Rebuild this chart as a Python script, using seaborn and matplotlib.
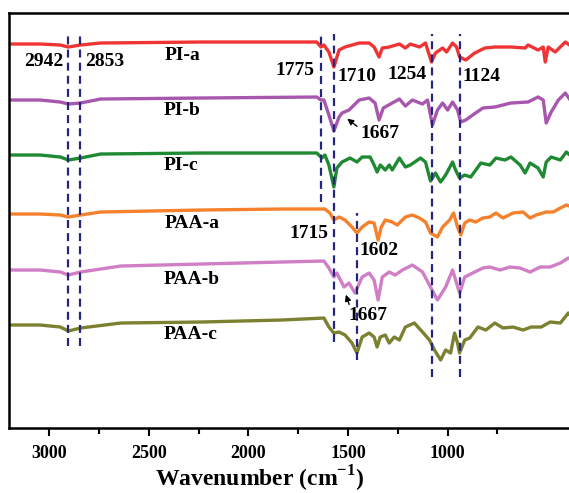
import numpy as np
import pandas as pd
import matplotlib
matplotlib.use("Agg")
import matplotlib.pyplot as plt
from matplotlib.ticker import FixedLocator
import seaborn as sns

# // FTIR spectra, stacked (wavenumber in cm-1, transmittance in arbitrary offset units)
pia_wn = [3202, 3045, 2944, 2904, 2843, 2742, 2237, 1657, 1636, 1621, 1596, 1571, 1545, 1515, 1444, 1394, 1369,
          1344, 1328, 1293, 1242, 1212, 1187, 1141, 1111, 1081, 1061, 1025, 1005, 975, 955, 940, 909, 864, 813,
          763, 682, 611, 596, 546, 520, 510, 495, 460, 409, 374]
pia_t = [384, 384, 383, 381, 383, 385, 386, 386, 381, 383, 376, 361, 378, 381, 385, 385, 381,
         371, 380, 381, 384, 380, 384, 381, 385, 366, 375, 380, 376, 385, 381, 371, 368, 375, 380,
         381, 381, 380, 383, 378, 381, 366, 381, 376, 386, 381]

pib_wn = [3202, 3045, 2944, 2904, 2843, 2742, 2237, 1657, 1636, 1621, 1596, 1571, 1545, 1530, 1495, 1444, 1394,
          1364, 1344, 1323, 1278, 1242, 1212, 1177, 1126, 1101, 1076, 1051, 1025, 1000, 975, 950, 934, 909, 874,
          823, 763, 682, 596, 546, 520, 505, 480, 444, 409, 374]
pib_t = [328, 328, 326, 324, 325, 329, 330, 331, 328, 328, 313, 297, 311, 315, 318, 328, 330,
         325, 308, 320, 325, 329, 322, 328, 324, 328, 303, 318, 325, 318, 326, 318, 306, 308, 313,
         320, 321, 325, 326, 331, 328, 305, 316, 328, 335, 325]

pic_wn = [3202, 3045, 2944, 2904, 2843, 2742, 2237, 1657, 1631, 1616, 1596, 1571, 1556, 1530, 1490, 1455, 1429,
          1389, 1369, 1354, 1338, 1313, 1293, 1278, 1242, 1212, 1187, 1136, 1111, 1086, 1061, 1035, 1010, 975,
          960, 940, 914, 884, 833, 788, 757, 712, 682, 636, 611, 586, 546, 520, 505, 480, 434, 404, 374]
pic_t = [273, 273, 271, 268, 270, 274, 275, 275, 270, 273, 263, 241, 260, 266, 270, 266, 271,
         271, 263, 256, 263, 258, 263, 258, 270, 261, 263, 270, 266, 247, 255, 246, 253, 266,
         258, 250, 253, 251, 265, 263, 270, 268, 271, 263, 255, 265, 260, 251, 266, 271, 268, 276, 271]

paaa_wn = [3202, 3045, 2944, 2904, 2843, 2742, 2237, 1833, 1616, 1591, 1571, 1545, 1515, 1480, 1455, 1429, 1394,
           1369, 1349, 1333, 1313, 1278, 1253, 1212, 1177, 1141, 1111, 1086, 1051, 1025, 990, 970, 950, 934, 914,
           889, 859, 823, 788, 757, 722, 672, 621, 586, 556, 505, 470, 434, 404, 374]
paaa_t = [214, 214, 213, 211, 213, 216, 218, 219, 219, 215, 208, 211, 208, 201, 195, 201, 206,
          205, 188, 201, 208, 206, 203, 211, 213, 210, 206, 195, 191, 201, 208, 215, 201, 193, 205,
          208, 206, 210, 211, 215, 210, 215, 216, 210, 213, 216, 216, 220, 223, 221]

paab_wn = [3202, 3045, 2944, 2904, 2843, 2641, 2237, 1833, 1621, 1596, 1571, 1556, 1520, 1495, 1465, 1429, 1394,
           1369, 1349, 1328, 1293, 1263, 1227, 1177, 1126, 1086, 1051, 1010, 975, 940, 914, 874, 823, 788, 737,
           687, 636, 586, 535, 485, 434, 394, 374]
paab_t = [158, 158, 156, 153, 156, 162, 164, 166, 167, 160, 151, 155, 141, 145, 135, 151, 155,
          148, 128, 151, 156, 153, 158, 163, 156, 141, 128, 141, 158, 135, 151, 155, 160, 161, 158,
          161, 160, 156, 161, 161, 165, 170, 168]

paac_wn = [3202, 3045, 2944, 2904, 2843, 2641, 2237, 1833, 1621, 1596, 1571, 1545, 1515, 1480, 1455, 1429, 1394,
           1369, 1354, 1338, 1313, 1293, 1268, 1242, 1212, 1167, 1126, 1091, 1066, 1035, 1010, 985, 965, 950,
           940, 914, 889, 848, 808, 763, 722, 672, 621, 581, 530, 485, 434, 394, 374]
paac_t = [103, 103, 101, 97, 100, 105, 106, 108, 110, 101, 95, 96, 93, 85, 75, 91, 95,
          91, 81, 91, 93, 85, 91, 88, 101, 105, 96, 88, 78, 68, 78, 75, 95, 85,
          75, 88, 90, 101, 98, 105, 100, 101, 98, 101, 101, 106, 105, 115, 111]

names = ["PI-a", "PI-b", "PI-c", "PAA-a", "PAA-b", "PAA-c"]
colors = ["#f03434", "#a857ae", "#208a32", "#f5812c", "#d07ec6", "#7b8131"]
spectra = [(pia_wn, pia_t), (pib_wn, pib_t), (pic_wn, pic_t),
           (paaa_wn, paaa_t), (paab_wn, paab_t), (paac_wn, paac_t)]

# // sample names
name_x = [2333, 2333, 2338, 2283, 2283, 2288]
name_y = [373, 318, 263, 205, 149, 94]

# // dashed marker lines: wavenumber, bottom, top
mark_wn = [2904, 2843, 1636, 1571, 1455, 1076, 940]
mark_lo = [82, 82, 226, 86, 68, 51, 51]
mark_hi = [394, 394, 394, 394, 215, 394, 394]

# // peak labels
peak_txt = ["2942", "2853", "1775", "1710", "1254", "1124", "1667", "1715", "1602", "1667"]
peak_x = [3025, 2722, 1768, 1455, 1202, 828, 1338, 1697, 1344, 1399]
peak_y = [367, 367, 358, 352, 354, 352, 295, 195, 178, 113]

# // arrows (tail -> head)
arrow_tail = [(1444, 300), (1490, 121)]
arrow_head = [(1515, 311), (1515, 136)]

sns.set_style("ticks")
plt.rcParams['font.family'] = ['Liberation Serif', 'DejaVu Serif']
plt.rcParams['mathtext.fontset'] = 'custom'
plt.rcParams['mathtext.rm'] = 'Liberation Serif:bold'
plt.rcParams['mathtext.bf'] = 'Liberation Serif:bold'
plt.rcParams['text.color'] = 'black'
plt.rcParams['axes.labelcolor'] = 'black'
plt.rcParams['xtick.color'] = 'black'

fig = plt.figure(figsize=(5.69, 4.93), dpi=100)
ax = fig.add_axes([0.0158, 0.1318, 0.99, 0.8418])

for (wn, t), name, c in zip(spectra, names, colors):
    d = pd.DataFrame({"wn": wn, "T": t})
    sns.lineplot(data=d, x="wn", y="T", color=c, lw=2.4, ax=ax, legend=False, sort=False)

ax.vlines(mark_wn, mark_lo, mark_hi, colors="#25257e", lw=1.6, linestyles=(0, (3.6, 2.3)), zorder=3)

for name, x, y in zip(names, name_x, name_y):
    ax.text(x, y, name, fontsize=14, fontweight="bold", ha="center", va="center", color="black")

for s, x, y in zip(peak_txt, peak_x, peak_y):
    ax.text(x, y, s, fontsize=14, fontweight="bold", ha="center", va="center", color="black")

for tail, head in zip(arrow_tail, arrow_head):
    ax.annotate("", xy=head, xytext=tail,
                arrowprops=dict(arrowstyle="-|>", color="black", lw=1, mutation_scale=9))

ax.set_xlim(3202, 374)
ax.set_ylim(0, 415)
ax.xaxis.set_major_locator(FixedLocator([3000, 2500, 2000, 1500, 1000]))
ax.xaxis.set_minor_locator(FixedLocator([2750, 2250, 1750, 1250, 750]))
ax.set_yticks([])
ax.tick_params(axis="x", which="major", length=6, width=1.5, labelsize=13, direction="out", pad=6,
               colors="black")
ax.tick_params(axis="x", which="minor", length=4, width=1.5, direction="out", colors="black")
for lab in ax.get_xticklabels():
    lab.set_fontweight("bold")
ax.set_xlabel(r"Wavenumber (cm$^{-1}$)", fontsize=17, fontweight="bold", color="black")
ax.xaxis.set_label_coords(0.445, -0.085)
ax.set_ylabel("")
for side in ["left", "bottom", "top"]:
    ax.spines[side].set_linewidth(1.8)
    ax.spines[side].set_color("black")
ax.spines["right"].set_visible(False)

fig.savefig("out.png", dpi=100)
